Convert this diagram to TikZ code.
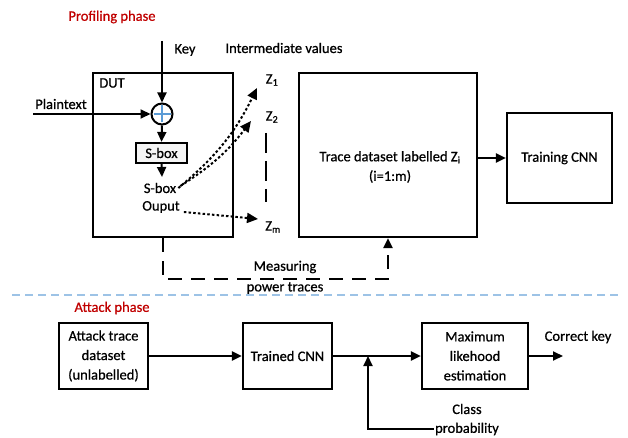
\documentclass[tikz,border=0pt]{standalone}
\usepackage{fontspec}
\setmainfont{Carlito}[FakeBold=0.7]
\usetikzlibrary{arrows.meta}
\definecolor{phasered}{HTML}{C00000}
\definecolor{sepblue}{HTML}{9DC3E6}
\definecolor{xorblue}{HTML}{5B9BD5}
\begin{document}
\begin{tikzpicture}[x=1pt,y=-1pt,
  font=\fontsize{14.5}{19.5}\selectfont,
  box/.style={draw, line width=2.2pt, inner sep=0pt, align=center},
  lbl/.style={inner sep=1pt, align=center},
  red/.style={lbl, text=phasered},
  arr/.style={line width=2pt, -{Triangle[length=10pt,width=9pt]}},
  dotarr/.style={line width=2pt, dash pattern=on 2.5pt off 2.2pt, -{Triangle[length=11pt,width=10pt]}},
  dasharr/.style={line width=2.2pt, dash pattern=on 14pt off 9pt, -{Triangle[length=10pt,width=9pt]}},
  dashline/.style={line width=2.2pt, dash pattern=on 20pt off 8pt},
  sepline/.style={line width=1.8pt, draw=sepblue, dash pattern=on 8pt off 5pt}]
\useasboundingbox (0,0) rectangle (628,438);

% ---------------- Profiling phase ----------------
\node[red] (prof) at (112,17) {Profiling phase};

\node[box, minimum width=140pt, minimum height=164pt] (dut) at (163,155) {};
\node[lbl] (dutl) at (112,83) {DUT};

\coordinate (keytop) at (162,41);
\node[lbl] (key) at (185,50) {Key};
\node[lbl] (iv) at (284,48) {Intermediate values};

\node[circle, draw, line width=2pt, fill=white, minimum size=21pt, inner sep=0pt] (xor) at (162,114) {};
\draw[xorblue, line width=1.4pt] ([yshift=-8.5pt]xor.center) -- ([yshift=8.5pt]xor.center)
      ([xshift=-8.5pt]xor.center) -- ([xshift=8.5pt]xor.center);

\node[lbl] (ptx) at (61,104) {Plaintext};
\coordinate (ptxstart) at (33,114);

\node[box, line width=2.2pt, fill=gray!8, minimum width=51pt, minimum height=20pt] (sbox) at (161.5,153) {S-box};
\coordinate (sboxout) at (162,177);
\node[lbl] (souta) at (160,188) {S-box};
\node[lbl] (soutb) at (161,207) {Ouput};

\draw[arr] (keytop) -- (xor.north);
\draw[arr] (ptxstart) -- (xor.west);
\draw[arr] (xor.south) -- (sbox.north);
\draw[arr] (sbox.south) -- (sboxout);

\node[lbl] (z1) at (272,80) {Z\textsubscript{1}};
\node[lbl] (z2) at (272,117) {Z\textsubscript{2}};
\node[lbl] (zm) at (273,227) {Z\textsubscript{m}};
\coordinate (dv1) at (266,133);
\coordinate (dv2) at (266,202);
\draw[dashline] (dv1) -- (dv2);

\coordinate (t1) at (257,88);
\coordinate (t2) at (251,121);
\coordinate (tm) at (258,219);
\draw[dotarr] ([xshift=1pt]souta.east) to[bend right=12] (t1);
\draw[dotarr] ([xshift=3pt,yshift=2pt]souta.east) to[bend right=10] (t2);
\draw[dotarr] ([xshift=3pt,yshift=-5pt]soutb.east) -- (tm);

\node[box, minimum width=178pt, minimum height=164pt] (trace) at (388,155) {};
\node[lbl] (tracetxt) at (390,167) {Trace dataset labelled Z\textsubscript{i}\\(i=1:m)};

\node[box, minimum width=105pt, minimum height=90pt] (train) at (559.5,158) {Training CNN};
\draw[arr] (train.west -| trace.east) -- (train.west);

\draw[dasharr] (dut.south) -- ++(0,41) -| (trace.south);
\node[lbl] (meas) at (285,267) {Measuring};
\node[lbl] (pow) at (285,288) {power traces};

% ---------------- separator ----------------
\coordinate (sepl) at (12,295);
\coordinate (sepr) at (620,295);
\draw[sepline] (sepl) -- (sepr);

% ---------------- Attack phase ----------------
\node[red] (att) at (112,308) {Attack phase};

\node[box, minimum width=89pt, minimum height=66pt] (atd) at (103.5,356) {Attack trace\\dataset\\(unlabelled)};
\node[box, minimum width=89pt, minimum height=66pt] (cnn) at (287.5,356) {Trained CNN};
\node[box, minimum width=106pt, minimum height=66pt] (mle) at (475,356) {Maximum\\likehood\\estimation};

\draw[arr] (atd.east) -- (cnn.west);
\draw[arr] (cnn.east) -- (mle.west);
\coordinate (keyout) at (563,356);
\draw[arr] (mle.east) -- (keyout);
\node[lbl] (ck) at (578,337) {Correct key};

\coordinate (j) at (368,356);
\node[lbl] (cls) at (467,409) {Class};
\node[lbl] (prob) at (467,429) {probability};
\draw[arr] (prob.west) -| (j);
\end{tikzpicture}
\end{document}
